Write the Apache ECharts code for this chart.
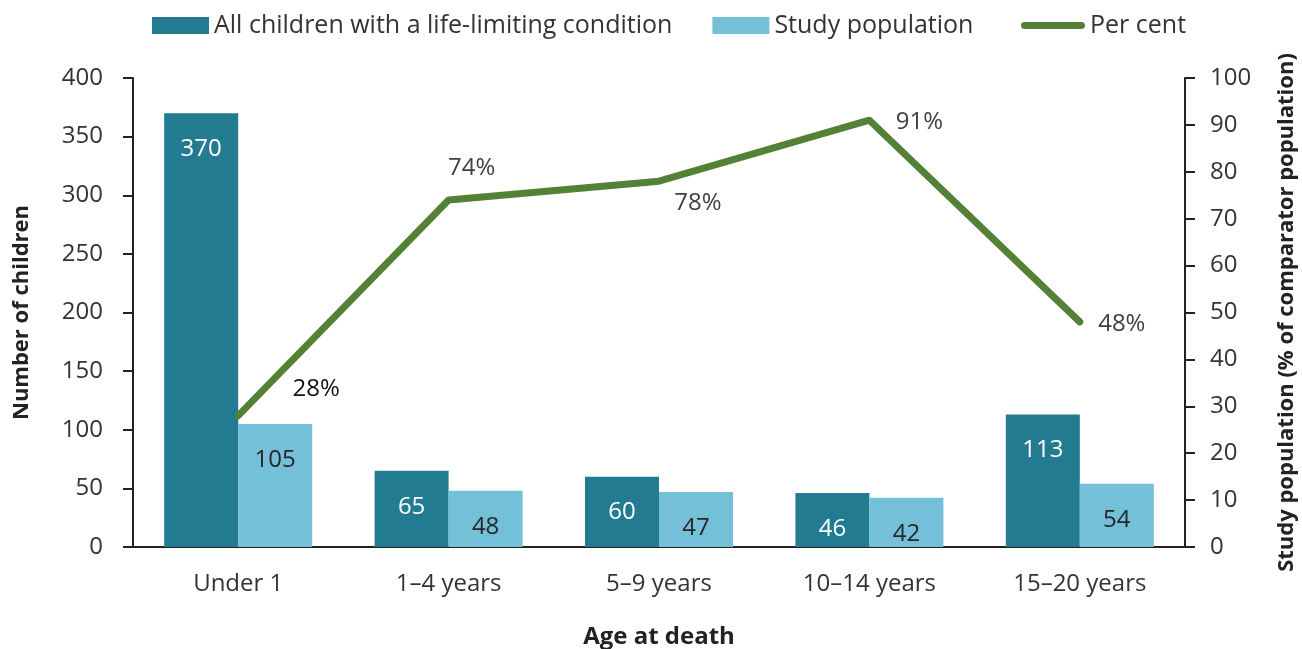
<!DOCTYPE html>
<html><head><meta charset="utf-8">
<script src="https://cdn.jsdelivr.net/npm/echarts@6/dist/echarts.min.js"></script>
<style>html,body{margin:0;padding:0;background:#fff}#c{width:1302px;height:649px}</style>
</head><body><div id="c"></div>
<script>
const categories = ['Under 1', '1–4 years', '5–9 years', '10–14 years', '15–20 years'];
const allChildren = [370, 65, 60, 46, 113];
const studyPopulation = [105, 48, 47, 42, 54];
const perCent = [28, 74, 78, 91, 48];
const leftTicks = [0, 400, 50];
const rightTicks = [0, 100, 10];

const FONT = '"Open Sans", "Noto Sans", sans-serif';
const pctLabelPos = [
  {offset: [78, -27], color: '#111'},
  {offset: [23, -32], color: '#404040'},
  {offset: [39, 22], color: '#404040'},
  {offset: [50, 2], color: '#404040'},
  {offset: [42, 2], color: '#404040'}
];

const chart = echarts.init(document.getElementById('c'));
chart.setOption({
  animation: false,
  textStyle: {fontFamily: FONT},
  legend: [{
    top: 8, left: 147,
    itemWidth: 57, itemHeight: 17, itemGap: 40,
    textStyle: {fontSize: 25, color: '#333', fontFamily: FONT},
    data: [
      {name: 'All children with a life-limiting condition', icon: 'rect'},
      {name: 'Study population', icon: 'rect'}
    ]
  }, {
    top: 8, left: 1016,
    itemWidth: 64, itemHeight: 17, itemGap: 41,
    textStyle: {fontSize: 25, color: '#333', fontFamily: FONT},
    data: [
      {name: 'Per cent', icon: 'path://M3.5,5 H60.5 A3.5,3.5 0 0 1 60.5,12 H3.5 A3.5,3.5 0 0 1 3.5,5 Z M0,0 H0.01 V17 H0 Z M64,0 H64.01 V17 H64 Z'}
    ]
  }],
  grid: {left: 133, right: 117, top: 78, bottom: 102, outerBoundsMode: 'none'},
  xAxis: {
    type: 'category', data: categories,
    axisLine: {lineStyle: {color: '#222', width: 2}},
    axisTick: {show: false},
    axisLabel: {fontSize: 24, color: '#333', margin: 25, fontFamily: FONT},
    name: 'Age at death', nameLocation: 'middle', nameGap: 78,
    nameTextStyle: {fontSize: 24, fontWeight: 'bold', color: '#222', fontFamily: FONT}
  },
  yAxis: [{
    type: 'value', min: leftTicks[0], max: leftTicks[1], interval: leftTicks[2],
    axisLine: {show: true, lineStyle: {color: '#222', width: 2}},
    axisTick: {show: true, length: 10, lineStyle: {color: '#222', width: 2}},
    splitLine: {show: false},
    axisLabel: {fontSize: 24, color: '#333', margin: 30, fontFamily: FONT},
    name: 'Number of children', nameLocation: 'middle', nameGap: 100,
    nameTextStyle: {fontSize: 22, fontWeight: 'bold', color: '#222', fontFamily: FONT}
  }, {
    type: 'value', min: rightTicks[0], max: rightTicks[1], interval: rightTicks[2],
    position: 'right',
    axisLine: {show: true, lineStyle: {color: '#222', width: 2}},
    axisTick: {show: true, length: 10, lineStyle: {color: '#222', width: 2}},
    splitLine: {show: false},
    axisLabel: {fontSize: 24, color: '#333', margin: 25, fontFamily: FONT},
    name: 'Study population (% of comparator population)', nameLocation: 'middle', nameGap: 91,
    nameRotate: 90,
    nameTextStyle: {fontSize: 22, fontWeight: 'bold', color: '#222', fontFamily: FONT}
  }],
  series: [{
    name: 'All children with a life-limiting condition', type: 'bar', data: allChildren,
    barWidth: 74, barGap: '0%',
    itemStyle: {color: '#237b92'},
    label: {show: true, position: 'insideTop', distance: 24, fontSize: 24, color: '#fff', fontFamily: FONT}
  }, {
    name: 'Study population', type: 'bar', data: studyPopulation,
    barWidth: 74, barGap: '0%',
    itemStyle: {color: '#74c0d8'},
    label: {show: true, position: 'insideTop', distance: 24, fontSize: 24, color: '#262626', fontFamily: FONT}
  }, {
    name: 'Per cent', type: 'line', yAxisIndex: 1, symbol: 'circle', symbolSize: 1, showSymbol: true,
    data: perCent.map((v, i) => ({
      value: v,
      label: {show: true, position: 'inside', offset: pctLabelPos[i].offset, color: pctLabelPos[i].color,
        fontSize: 24, fontFamily: FONT, formatter: '{c}%'}
    })),
    lineStyle: {color: '#538135', width: 7, cap: 'round', join: 'round'},
    itemStyle: {color: '#538135'},
    z: 5
  }]
});
</script></body></html>
